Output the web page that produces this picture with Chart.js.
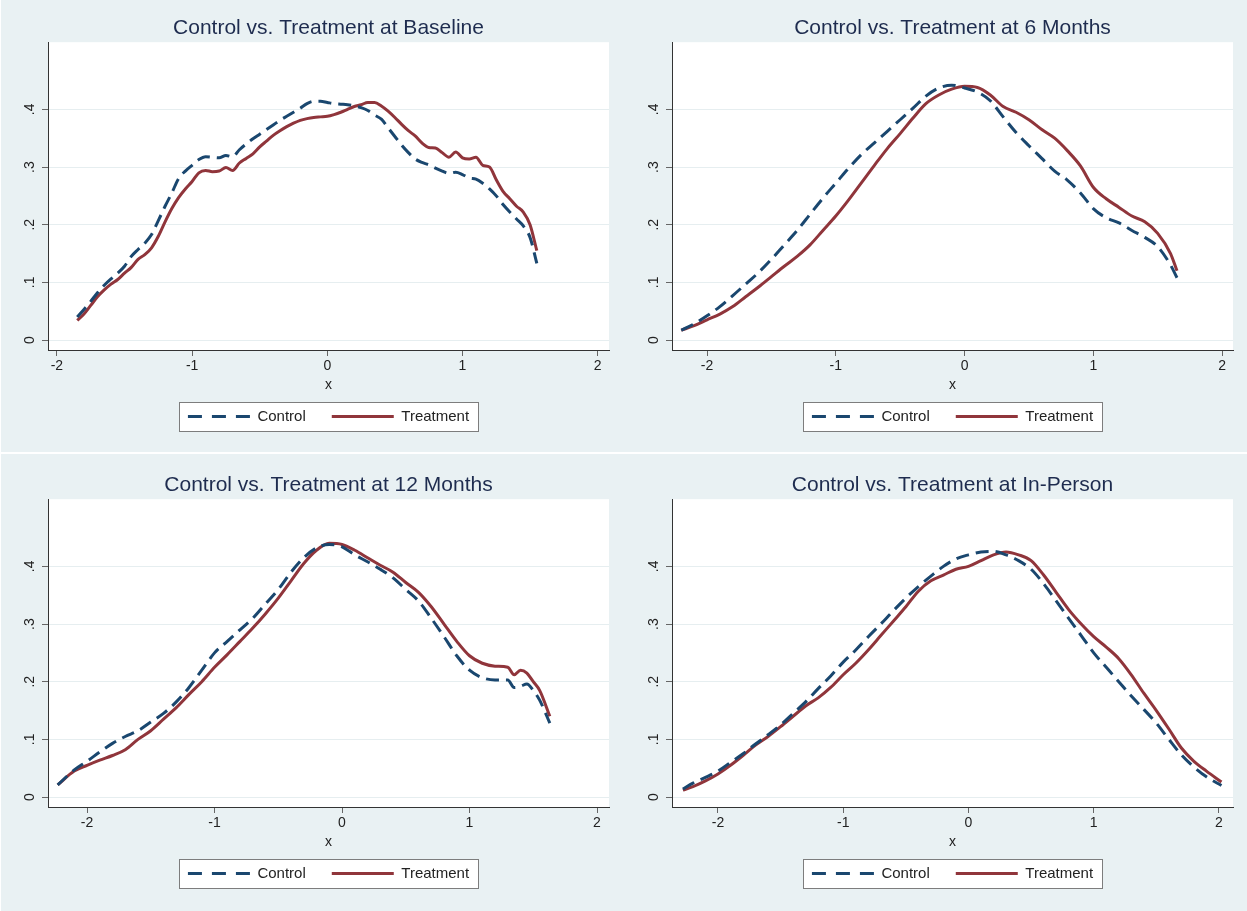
<!DOCTYPE html>
<html>
<head>
<meta charset="utf-8">
<script src="https://cdn.jsdelivr.net/npm/chart.js@4.4.1/dist/chart.umd.min.js"></script>
<style>
  html, body { margin: 0; padding: 0; overflow: hidden; }
  body { width: 1247px; height: 911px; background: #e9f1f3; position: relative; }
  .panel { position: absolute; width: 623px; height: 452px; }
  .sep { position: absolute; left: 0; top: 452px; width: 1247px; height: 2px; background: #fff; }
  .edge { position: absolute; left: 0; top: 0; width: 1px; height: 911px; background: #fff; }
</style>
</head>
<body>
<div class="edge"></div>
<div class="sep"></div>
<div class="panel" style="left:0;top:0"><canvas id="baseline" width="623" height="452"></canvas></div>
<div class="panel" style="left:624px;top:0"><canvas id="sixMonths" width="623" height="452"></canvas></div>
<div class="panel" style="left:0;top:457px"><canvas id="twelveMonths" width="623" height="452"></canvas></div>
<div class="panel" style="left:624px;top:457px"><canvas id="inPerson" width="623" height="452"></canvas></div>
<script>
// axis ticks shared by every panel
const xTicks = [-2, -1, 0, 1, 2];
const xTickLabels = ['-2', '-1', '0', '1', '2'];
const yTicks = [0, 0.1, 0.2, 0.3, 0.4];
const yTickLabels = ['0', '.1', '.2', '.3', '.4'];
const yRange = [-0.0173, 0.5165];

// Baseline densities
const baselineX = [
  -1.85, -1.8, -1.75, -1.7, -1.65, -1.6, -1.55, -1.5, -1.45, -1.4,
  -1.35, -1.3, -1.25, -1.2, -1.15, -1.1, -1.05, -1, -0.95, -0.9,
  -0.85, -0.8, -0.75, -0.7, -0.65, -0.6, -0.55, -0.5, -0.45, -0.4,
  -0.35, -0.3, -0.25, -0.2, -0.15, -0.1, -0.05, 0, 0.05, 0.1,
  0.15, 0.2, 0.25, 0.3, 0.35, 0.4, 0.45, 0.5, 0.55, 0.6,
  0.65, 0.7, 0.75, 0.8, 0.85, 0.9, 0.95, 1, 1.05, 1.1,
  1.15, 1.2, 1.25, 1.3, 1.35, 1.4, 1.45, 1.5, 1.55
];
const baselineControl = [
  .040, .053, .067, .082, .095, .106, .116, .128, .145, .157,
  .168, .183, .207, .232, .255, .280, .293, .303, .313, .318,
  .317, .316, .320, .318, .330, .340, .349, .357, .365, .373,
  .381, .388, .395, .402, .410, .414, .414, .412, .410, .409,
  .408, .406, .403, .398, .390, .383, .368, .353, .338, .325,
  .314, .308, .304, .298, .293, .289, .291, .287, .281, .279,
  .272, .262, .250, .235, .222, .210, .198, .178, .133
];
const baselineTreatment = [
  .034, .045, .060, .075, .087, .097, .105, .116, .126, .140,
  .148, .160, .180, .205, .228, .247, .262, .275, .290, .294,
  .292, .293, .299, .294, .307, .315, .323, .335, .345, .355,
  .363, .370, .376, .381, .384, .386, .387, .388, .391, .395,
  .400, .405, .408, .412, .412, .406, .397, .386, .374, .363,
  .354, .342, .334, .333, .325, .317, .326, .316, .314, .317,
  .303, .300, .278, .258, .245, .232, .222, .200, .155
];
const baselineRange = [-2.066, 2.084];

// 6 months
const sixMonthX = [
  -2.2, -2.1, -2, -1.9, -1.8, -1.7, -1.6, -1.5, -1.4, -1.3,
  -1.2, -1.1, -1, -0.9, -0.8, -0.7, -0.6, -0.5, -0.4, -0.3,
  -0.2, -0.1, 0, 0.1, 0.2, 0.3, 0.4, 0.5, 0.6, 0.7,
  0.8, 0.9, 1, 1.1, 1.2, 1.3, 1.4, 1.5, 1.6, 1.65
];
const sixMonthControl = [
  .017, .028, .042, .058, .077, .097, .117, .140, .165, .190,
  .218, .246, .272, .298, .322, .342, .362, .382, .402, .423,
  .437, .442, .437, .430, .415, .387, .360, .337, .315, .293,
  .277, .255, .228, .212, .203, .190, .178, .162, .130, .108
];
const sixMonthTreatment = [
  .017, .025, .035, .045, .058, .075, .092, .110, .128, .145,
  .165, .190, .215, .243, .273, .303, .332, .358, .385, .410,
  .425, .435, .440, .438, .425, .405, .395, .382, .365, .350,
  .328, .302, .265, .245, .230, .215, .205, .185, .150, .120
];
const sixMonthRange = [-2.272, 2.085];

// 12 months
const twelveMonthX = [
  -2.23, -2.1, -2, -1.9, -1.8, -1.7, -1.6, -1.5, -1.4, -1.3,
  -1.2, -1.1, -1, -0.9, -0.8, -0.7, -0.6, -0.5, -0.4, -0.3,
  -0.2, -0.1, 0, 0.1, 0.2, 0.3, 0.4, 0.5, 0.6, 0.7,
  0.8, 0.9, 1, 1.1, 1.2, 1.3, 1.35, 1.4, 1.45, 1.5,
  1.55, 1.63
];
const twelveMonthControl = [
  .021, .047, .062, .078, .093, .105, .115, .130, .145, .165,
  .190, .220, .250, .270, .290, .310, .335, .360, .390, .415,
  .432, .438, .434, .420, .408, .395, .380, .360, .340, .310,
  .278, .245, .220, .207, .203, .203, .190, .192, .196, .185,
  .168, .128
];
const twelveMonthTreatment = [
  .021, .045, .055, .064, .072, .082, .100, .115, .135, .155,
  .178, .200, .225, .247, .270, .293, .318, .345, .375, .405,
  .428, .440, .438, .428, .415, .402, .390, .372, .355, .330,
  .300, .270, .245, .232, .227, .225, .212, .220, .215, .200,
  .185, .140
];
const twelveMonthRange = [-2.306, 2.094];

// In-person
const inPersonX = [
  -2.28, -2.2, -2.1, -2, -1.9, -1.8, -1.7, -1.6, -1.5, -1.4,
  -1.3, -1.2, -1.1, -1, -0.9, -0.8, -0.7, -0.6, -0.5, -0.4,
  -0.3, -0.2, -0.1, 0, 0.1, 0.2, 0.3, 0.4, 0.5, 0.6,
  0.7, 0.8, 0.9, 1, 1.1, 1.2, 1.3, 1.4, 1.5, 1.6,
  1.7, 1.8, 1.9, 2.02
];
const inPersonControl = [
  .014, .024, .034, .045, .060, .075, .092, .108, .125, .145,
  .165, .188, .210, .234, .255, .278, .300, .323, .345, .365,
  .383, .400, .413, .420, .425, .426, .420, .410, .395, .370,
  .340, .310, .280, .250, .225, .200, .175, .152, .128, .100,
  .073, .052, .035, .020
];
const inPersonTreatment = [
  .012, .018, .028, .040, .055, .072, .090, .105, .122, .140,
  .158, .172, .190, .212, .232, .255, .280, .305, .330, .357,
  .375, .385, .395, .400, .410, .420, .425, .420, .410, .385,
  .355, .325, .300, .278, .260, .240, .212, .180, .150, .118,
  .085, .062, .045, .026
];
const inPersonRange = [-2.367, 2.112];

const FONT = '"Liberation Sans", Arial, Helvetica, sans-serif';
const CONTROL_COLOR = '#1a476f';
const TREATMENT_COLOR = '#90353b';

Chart.defaults.font.family = FONT;
Chart.defaults.color = '#222';

// white plot region, legend centred over the plot and framed like Stata's
const panelFrame = {
  id: 'panelFrame',
  afterLayout(chart) {
    const { left, right, bottom } = chart.chartArea;
    for (const box of [chart.titleBlock, chart.legend]) {
      box.left = left;
      box.right = right;
      box.width = right - left;
    }
    chart.legend.top = bottom + 33;
    chart.legend.bottom = chart.legend.top + chart.legend.height;
  },
  beforeDraw(chart) {
    const { ctx, chartArea: a, legend } = chart;
    ctx.save();
    ctx.fillStyle = '#fff';
    ctx.fillRect(a.left, a.top, a.right - a.left, a.bottom - a.top);

    const boxes = legend.legendHitBoxes;
    const first = boxes[0];
    const last = boxes[boxes.length - 1];
    const cy = first.top + first.height / 2;
    const x0 = Math.round(first.left - 9) + 0.5;
    const x1 = Math.round(last.left + last.width + 9) + 0.5;
    const y0 = Math.round(cy - 14.5) + 0.5;
    const y1 = Math.round(cy + 14.5) + 0.5;
    ctx.fillRect(x0, y0, x1 - x0, y1 - y0);
    ctx.strokeStyle = '#7d7d7d';
    ctx.lineWidth = 1;
    ctx.strokeRect(x0, y0, x1 - x0, y1 - y0);
    ctx.restore();
  }
};

// legend samples: three even dashes for the dashed series
function legendLabels(chart) {
  const items = Chart.defaults.plugins.legend.labels.generateLabels(chart);
  return items.map(item => {
    const ds = chart.data.datasets[item.datasetIndex];
    return Object.assign(item, {
      lineDash: ds.borderDash ? [14, 10] : [],
      lineWidth: ds.borderWidth,
      strokeStyle: ds.borderColor,
      lineCap: 'butt'
    });
  });
}

function makePanel(canvasId, titleText, xs, control, treatment, range) {
  const toPoints = ys => xs.map((x, i) => ({ x: x, y: ys[i] }));
  const lineStyle = {
    borderWidth: 3,
    pointRadius: 0,
    fill: false,
    cubicInterpolationMode: 'monotone'
  };

  return new Chart(document.getElementById(canvasId), {
    type: 'line',
    data: {
      datasets: [
        Object.assign({
          label: 'Control',
          data: toPoints(control),
          borderColor: CONTROL_COLOR,
          backgroundColor: CONTROL_COLOR,
          borderDash: [13, 7]
        }, lineStyle),
        Object.assign({
          label: 'Treatment',
          data: toPoints(treatment),
          borderColor: TREATMENT_COLOR,
          backgroundColor: TREATMENT_COLOR
        }, lineStyle)
      ]
    },
    options: {
      responsive: false,
      animation: false,
      layout: { padding: { left: 0, right: 14, top: 0, bottom: 7 } },
      plugins: {
        title: {
          display: true,
          text: titleText,
          color: '#1e2c4f',
          font: { size: 21, weight: 'normal' },
          padding: { top: 16, bottom: 1 }
        },
        legend: {
          position: 'bottom',
          labels: {
            usePointStyle: true,
            pointStyle: 'line',
            pointStyleWidth: 62,
            padding: 26,
            color: '#222',
            font: { size: 15 },
            generateLabels: legendLabels
          }
        },
        tooltip: { enabled: false }
      },
      scales: {
        x: {
          type: 'linear',
          min: range[0],
          max: range[1],
          afterBuildTicks: s => { s.ticks = xTicks.map(v => ({ value: v })); },
          afterFit: s => { s.height = 44; s.paddingLeft = 0; s.paddingRight = 0; },
          ticks: {
            callback: (v, i) => xTickLabels[i],
            font: { size: 14 },
            color: '#222',
            padding: 2,
            maxRotation: 0,
            autoSkip: false
          },
          grid: { drawOnChartArea: false, tickLength: 6, tickColor: '#666' },
          border: { color: '#333', width: 1 },
          title: { display: true, text: 'x', font: { size: 14 }, color: '#222', padding: 0 }
        },
        y: {
          min: yRange[0],
          max: yRange[1],
          afterBuildTicks: s => { s.ticks = yTicks.map(v => ({ value: v })); },
          afterFit: s => { s.width = 48; s.paddingTop = 0; s.paddingBottom = 0; },
          ticks: {
            callback: (v, i) => yTickLabels[i],
            font: { size: 14 },
            color: '#222',
            minRotation: 90,
            maxRotation: 90,
            crossAlign: 'center',
            padding: 6,
            autoSkip: false
          },
          grid: { color: '#e6eef0', lineWidth: 1, tickLength: 6, tickColor: '#666' },
          border: { color: '#333', width: 1 }
        }
      }
    },
    plugins: [panelFrame]
  });
}

makePanel('baseline', 'Control vs. Treatment at Baseline',
  baselineX, baselineControl, baselineTreatment, baselineRange);
makePanel('sixMonths', 'Control vs. Treatment at 6 Months',
  sixMonthX, sixMonthControl, sixMonthTreatment, sixMonthRange);
makePanel('twelveMonths', 'Control vs. Treatment at 12 Months',
  twelveMonthX, twelveMonthControl, twelveMonthTreatment, twelveMonthRange);
makePanel('inPerson', 'Control vs. Treatment at In-Person',
  inPersonX, inPersonControl, inPersonTreatment, inPersonRange);
</script>
</body>
</html>
